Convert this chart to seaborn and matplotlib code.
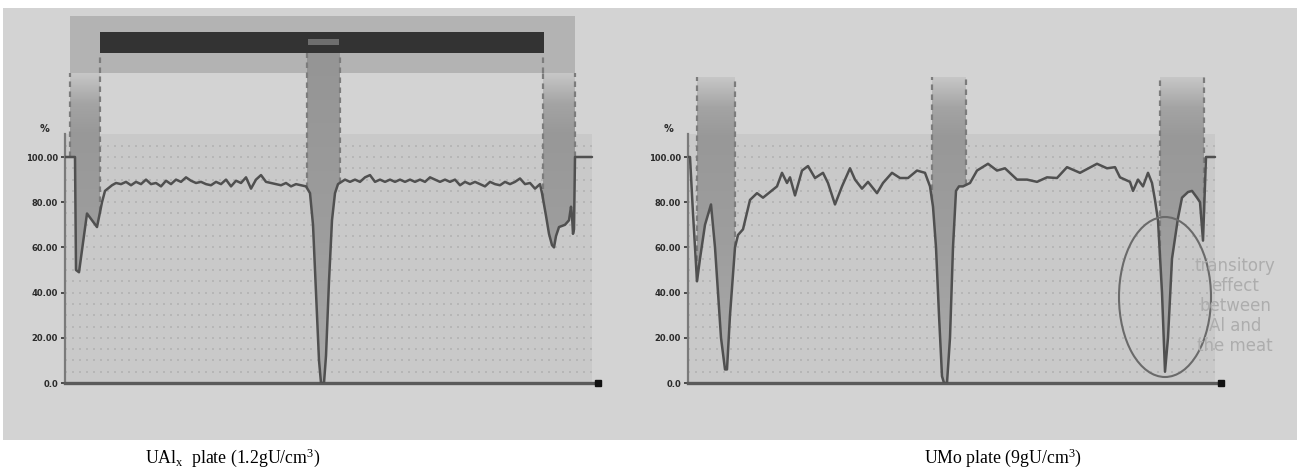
import numpy as np
import matplotlib
matplotlib.use("Agg")
import matplotlib.pyplot as plt
import seaborn as sns
from matplotlib.patches import Rectangle, Ellipse
from matplotlib.colors import LinearSegmentedColormap

sns.set_style("white")
plt.rcParams["font.family"] = ["DejaVu Sans"]
plt.rcParams["mathtext.fontset"] = "custom"
plt.rcParams["mathtext.rm"] = "Liberation Serif"
plt.rcParams["mathtext.it"] = "Liberation Serif:italic"

# ---------------- data (position along plate, transmission %) ----------------
ualx_pos = [0, 10, 11, 14, 18, 22, 27, 32, 37, 40, 47,
            51, 56, 61, 66, 71, 76, 81, 86, 91, 96, 101, 106, 111, 116, 121,
            126, 131, 136, 141, 146, 151, 156, 161, 166, 171, 176, 181, 186,
            191, 196, 201, 206, 211, 216, 221, 226, 231, 236, 241,
            245, 248, 251, 254, 256, 259, 261, 264, 267, 270, 273,
            280, 285, 290, 295, 300, 305, 310, 315, 320, 325, 330, 335, 340,
            345, 350, 355, 360, 365, 370, 375, 380, 385, 390, 395, 400, 405,
            410, 415, 420, 425, 430, 435, 440, 445, 450, 455, 460, 465, 470, 475,
            477, 481, 484, 487, 489, 491, 494, 500, 504, 506, 507, 508, 509, 510, 527]
ualx_val = [100, 100, 50, 49, 62, 75, 72, 69, 80, 85, 87.5,
            88.5, 88, 89, 87.5, 89, 88, 90, 88, 88.5, 87, 89.5, 88, 90, 89, 91,
            89.5, 88.5, 89, 88, 87.5, 89, 88, 90, 87, 89.5, 88.5, 91, 86,
            90, 92, 89, 88.5, 88, 87.5, 88.5, 87, 88, 87.5, 87,
            84, 70, 40, 10, 0, 0, 12, 45, 72, 84, 88,
            90, 89, 90, 89, 91, 92, 89, 90, 89, 90, 89, 90, 89,
            90, 89, 90, 89, 91, 90, 89, 90, 89, 90, 87.5, 89, 88,
            89, 88, 87, 89, 88, 87.5, 89, 88, 89, 90.5, 88, 88.5, 86, 88,
            84, 74, 66, 61, 60, 65, 69, 70, 72, 78, 74, 66, 68, 100, 100]

umo_pos = [0, 2, 5, 9, 12, 17, 23, 27, 33, 37, 39, 42, 47, 50, 55, 62, 69, 75,
           82, 89, 94, 99, 102, 107, 114, 120, 127, 135, 140, 147, 154, 162,
           167, 174, 180, 189, 195, 204, 212, 220, 229, 237, 242,
           245, 248, 251, 254, 256, 259, 262, 265, 268, 271,
           275, 282, 289, 300, 309, 317, 329, 339, 349, 359, 369, 379, 392,
           409, 419, 427, 432, 442, 445, 450, 455, 460, 464, 467,
           470, 474, 477, 480, 484, 490, 494, 500, 504, 509, 512, 515, 518, 527]
umo_val = [100, 100, 75, 45, 55, 70, 79, 60, 20, 6, 6, 30, 60, 65.5, 68, 81, 84, 82,
           84.5, 87, 93, 88.5, 91, 83, 94, 96, 90.7, 93, 88.5, 79, 87, 95,
           90, 86, 89, 84, 88.5, 93, 90.7, 90.7, 94, 93, 87,
           78, 60, 30, 3, 0, 0, 20, 60, 85, 87,
           87, 88.5, 94, 97, 94, 95, 90, 90, 89, 91, 90.7, 95.5, 93,
           97, 95, 95.5, 91, 89, 85, 90, 87, 93, 88.5, 81,
           72, 40, 5, 20, 55, 73, 82, 84.5, 85, 82, 80, 63, 100, 100]

y_ticks = [0, 20, 40, 60, 80, 100]
y_tick_labels = ["0.0", "20.00", "40.00", "60.00", "80.00", "100.00"]

ualx_strips = [(5, 35), (242, 275), (478, 510)]
umo_strips = [(9, 47), (244, 278), (472, 516)]

captions = ["UAl$_{\\mathrm{x}}$  plate (1.2gU/cm$^{3}$)",
            "UMo plate (9gU/cm$^{3}$)"]
note = "transitory\neffect\nbetween\nAl and\nthe meat"

# ---------------- layout ----------------
W, H = 1297, 473
PX_PER_PCT = 2.26
Y_TOP = 375 / PX_PER_PCT

fig = plt.figure(figsize=(W / 100, H / 100), dpi=100)
fig.patch.set_facecolor("white")
fig.patches.append(Rectangle((3 / W, (H - 440) / H), 1294 / W, 432 / H,
                             transform=fig.transFigure, facecolor="#d3d3d3",
                             edgecolor="none", zorder=-10))

strip_cmap = LinearSegmentedColormap.from_list(
    "strip", [(0.0, "#ababab"), (0.45, "#9e9e9e"), (0.8, "#989898"),
              (0.9, "#a4a4a4"), (1.0, "#c8c8c8")])
center_cmap = LinearSegmentedColormap.from_list(
    "strip2", [(0.0, "#a9a9a9"), (0.5, "#9c9c9c"), (1.0, "#959595")])


def shade_strip(ax, pos, val, x0, x1, top, cmap):
    pos = np.asarray(pos, float)
    val = np.asarray(val, float)
    inside = (pos > x0) & (pos < x1)
    sx = np.concatenate([[x0], pos[inside], [x1]])
    sy = np.concatenate([[np.interp(x0, pos, val)], val[inside],
                         [np.interp(x1, pos, val)]])
    poly = ax.fill_between(sx, sy, top, color="none", linewidth=0)
    grad = np.linspace(0, 1, 256).reshape(-1, 1)
    im = ax.imshow(grad, extent=[x0, x1, 0, top], origin="lower",
                   aspect="auto", cmap=cmap, vmin=0, vmax=1, zorder=2)
    im.set_clip_path(poly.get_paths()[0], transform=ax.transData)
    for xe, ye in [(x0, sy[0]), (x1, sy[-1])]:
        ax.plot([xe, xe], [ye, top], color="#7c7c7c", lw=1.6,
                ls=(0, (2.5, 2)), zorder=2.5, clip_on=False)


def draw_panel(left_px, pos, val, strips, strip_top):
    ax = fig.add_axes([left_px / W, (H - 383) / H, 545 / W, 375 / H])
    ax.set_facecolor("none")
    # plot area with dotted grid
    ax.add_patch(Rectangle((0, 0), 527, 110, facecolor="#c9c9c9",
                           edgecolor="none", zorder=0.5))
    ax.hlines(np.arange(5, 110, 5), 0, 527, colors="#b3b3b3", lw=1.2,
              linestyles=(0, (1.2, 3)), zorder=1)
    for x0, x1 in strips:
        top = strip_top(x0)
        shade_strip(ax, pos, val, x0, x1, top,
                    center_cmap if top > 140 else strip_cmap)
    sns.lineplot(x=pos, y=val, ax=ax, color="#505050", linewidth=1.8,
                 estimator=None, sort=False, zorder=3)
    ax.plot([533], [0], marker="s", ms=4.5, color="#111111",
            clip_on=False, zorder=5)
    ax.set_xlim(0, 545)
    ax.set_ylim(0, Y_TOP)
    for s in ["top", "right"]:
        ax.spines[s].set_visible(False)
    ax.spines["left"].set_bounds(0, 110)
    ax.spines["left"].set_color("#7a7a7a")
    ax.spines["left"].set_linewidth(1.6)
    ax.spines["bottom"].set_bounds(0, 533)
    ax.spines["bottom"].set_color("#5a5a5a")
    ax.spines["bottom"].set_linewidth(2.4)
    ax.set_xticks([])
    ax.set_yticks(y_ticks)
    ax.set_yticklabels(y_tick_labels, fontsize=6, fontweight="bold",
                       color="#2a2a2a")
    ax.tick_params(axis="y", left=True, length=3, width=1.2,
                   color="#333333", pad=2)
    ax.set_xlabel("")
    ax.set_ylabel("")
    ax.text(-20, 112.5, "%", fontsize=7, fontweight="bold", color="#2a2a2a",
            ha="center", va="center")
    return ax


def py(v):
    return (383 - v) / PX_PER_PCT


# ---------------- left panel: UAlx ----------------
axl = draw_panel(65, ualx_pos, ualx_val, ualx_strips,
                 lambda x0: py(53) if 100 < x0 < 400 else py(73))
axl.add_patch(Rectangle((5, py(73)), 505, py(16) - py(73),
                        facecolor="#b3b3b3", edgecolor="none", zorder=1.5))
axl.add_patch(Rectangle((35, py(53)), 444, py(32) - py(53),
                        facecolor="#333333", edgecolor="none", zorder=2.6))
axl.add_patch(Rectangle((243, py(45)), 31, py(39) - py(45),
                        facecolor="#6e6e6e", edgecolor="none", zorder=2.7))
for xe in (35, 478):
    axl.plot([xe, xe], [py(73), py(53)], color="#7c7c7c", lw=1.6,
             ls=(0, (2.5, 2)), zorder=2.5)

# ---------------- right panel: UMo ----------------
axr = draw_panel(688, umo_pos, umo_val, umo_strips, lambda x0: py(77))
axr.add_patch(Ellipse((477, py(297)), 92, 160 / PX_PER_PCT, fill=False,
                      edgecolor="#6a6a6a", lw=1.5, zorder=4, clip_on=False))
axr.text(547, 34, note, ha="center", va="center", multialignment="center",
         fontsize=12, color="#adadad", linespacing=1.15, clip_on=False,
         zorder=4)

# ---------------- captions ----------------
for cx, cap in zip([233, 1003], captions):
    fig.text(cx / W, (H - 458) / H, cap, ha="center", va="center",
             fontsize=12.8, family="Liberation Serif", color="black")

fig.savefig("out.png", dpi=100)
